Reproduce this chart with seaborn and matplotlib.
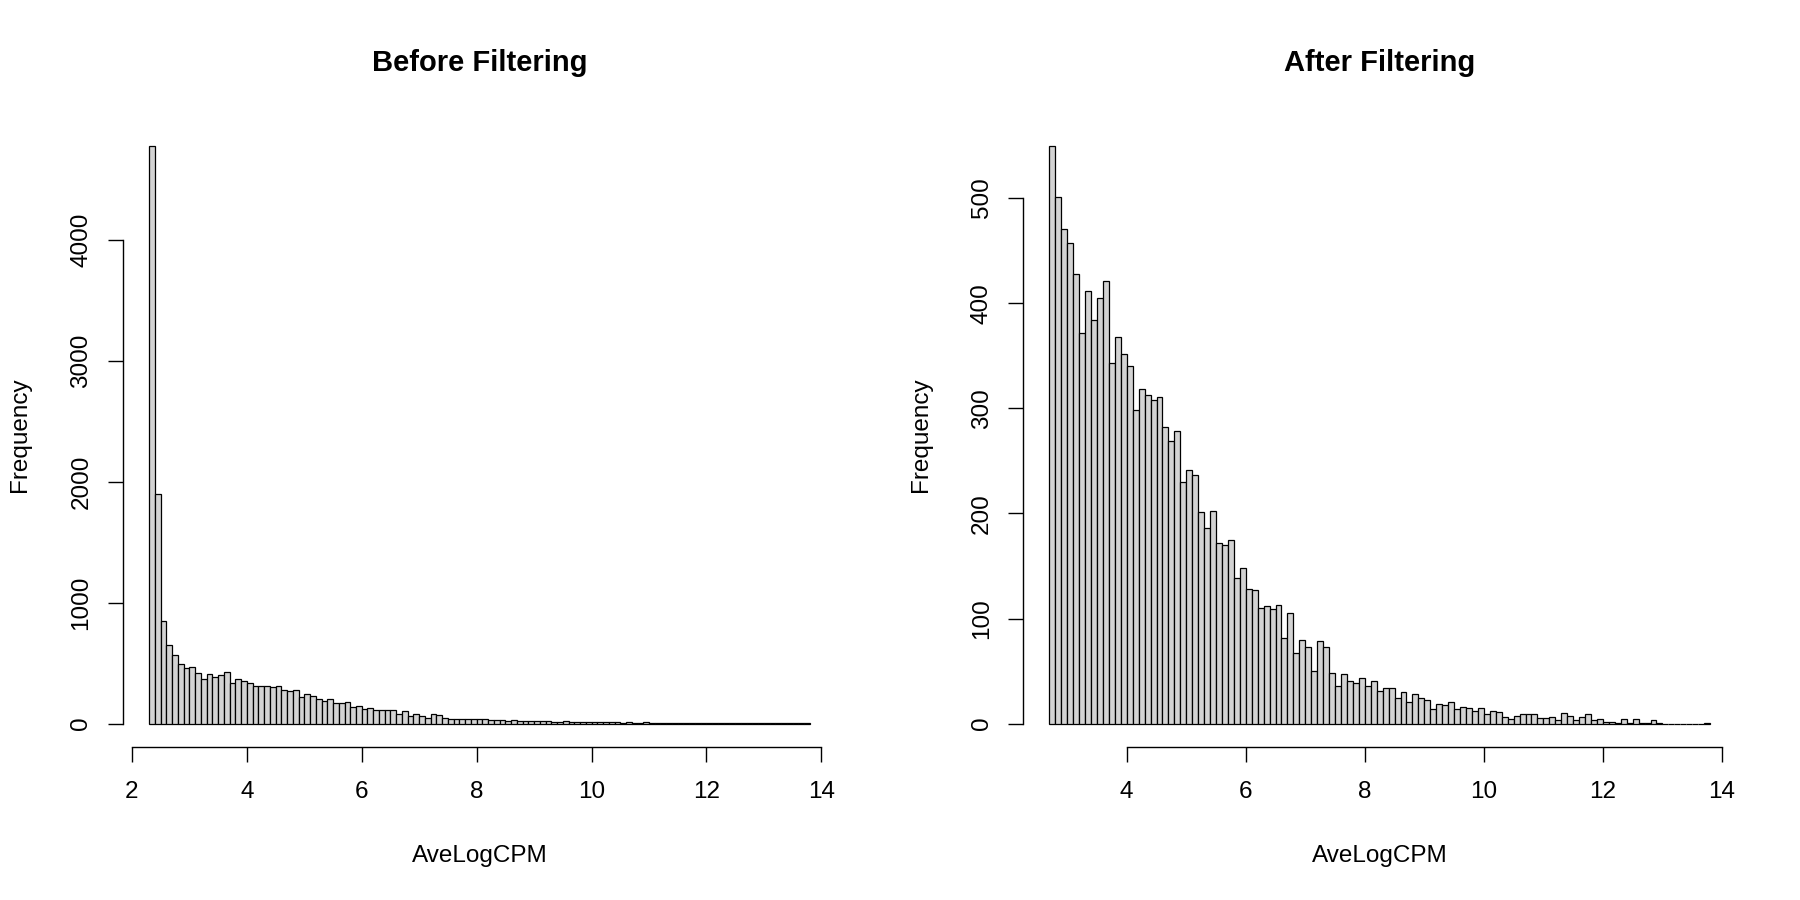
#Recreate the two AveLogCPM histograms (before and after filtering) in an R base graphics look
import matplotlib
matplotlib.use('Agg')
import matplotlib.pyplot as plt
import numpy as np
import pandas as pd
import seaborn as sns

#bin settings (bins are 0.1 wide)
bin_width = 0.1
before_start = 2.3
after_start = 2.7

#counts per bin, from 2.3 up to 13.8
before_counts = [4777, 1899, 847, 652,
                 564, 495, 459, 468, 418, 366, 413, 385, 402, 424,
                 333, 366, 355, 336, 311, 314, 314, 303, 308, 281,
                 272, 275, 220, 248, 231, 201, 184, 204, 168, 171,
                 176, 138, 149, 124, 129, 110, 110, 110, 113, 80,
                 105, 66, 83, 66, 47, 77, 72, 47, 36, 41,
                 39, 36, 41, 36, 41, 30,
                 30, 29, 25, 27, 22, 24, 20, 21, 18, 20,
                 17, 16, 18, 14, 15, 14, 12, 13, 11, 12,
                 10, 11, 9, 10, 8, 9, 10, 7, 8, 7,
                 9, 6, 7, 6, 8, 5, 6, 5, 6, 4,
                 5, 4, 5, 3, 4, 3, 4, 3, 2, 3,
                 2, 2, 3, 2, 2]

#counts per bin after filtering, from 2.7 up to 13.8
after_counts = [550, 501, 471, 457, 428, 372, 412, 384, 405, 421,
                343, 368, 352, 340, 298, 318, 313, 308, 311, 282,
                269, 278, 230, 241, 237,
                201, 186, 202, 172, 170, 175, 139, 148, 128, 127,
                110, 112, 109, 113, 81, 105, 67, 80, 73, 50,
                79, 73, 48, 36, 47, 41, 39, 43, 36, 41,
                31, 34, 34, 24, 30, 21, 28, 24, 22, 14,
                19, 18, 21, 14, 16, 15, 12, 15,
                9, 12, 11, 6, 4, 7, 9, 9, 9, 5,
                5, 6, 3, 10, 7, 3, 6, 9, 3, 4,
                2, 2, 1, 4, 1, 4, 1, 1, 3, 1,
                0, 0, 0, 0, 0, 0, 0, 1]

before_xticks = [2, 4, 6, 8, 10, 12, 14]
after_xticks = [4, 6, 8, 10, 12, 14]
before_yticks = [0, 1000, 2000, 3000, 4000]
after_yticks = [0, 100, 200, 300, 400, 500]

sns.set_style("ticks")
plt.rcParams['font.family'] = ['Liberation Sans', 'DejaVu Sans']
#R draws everything in plain black
for key in ['text.color', 'axes.labelcolor', 'xtick.color', 'ytick.color', 'axes.edgecolor']:
    plt.rcParams[key] = 'black'

fig = plt.figure(figsize=(18, 9), dpi=100)
ax1 = fig.add_axes([0.0682, 0.1703, 0.3964, 0.6937])
ax2 = fig.add_axes([0.5683, 0.1703, 0.3964, 0.6937])


def draw_hist(ax, counts, start, title, xticks, yticks):
    counts = np.array(counts, dtype=float)
    edges = start + bin_width * np.arange(len(counts) + 1)
    #one row per bin, weighted by the bin count
    df = pd.DataFrame({'AveLogCPM': edges[:-1] + bin_width / 2, 'count': counts})
    sns.histplot(data=df, x='AveLogCPM', weights='count', bins=list(edges), ax=ax,
                 color='#D3D3D3', edgecolor='black', linewidth=0.9, alpha=1)
    # R pads the plot region by 4% on each side
    lo, hi = edges[0], edges[-1]
    ax.set_xlim(lo - 0.04 * (hi - lo), hi + 0.04 * (hi - lo))
    ax.set_ylim(-0.04 * counts.max(), 1.04 * counts.max())
    ax.set_xticks(xticks)
    ax.set_yticks(yticks)
    sns.despine(ax=ax)
    ax.spines['bottom'].set_bounds(xticks[0], xticks[-1])
    ax.spines['left'].set_bounds(yticks[0], yticks[-1])
    ax.spines['bottom'].set_linewidth(1.0)
    ax.spines['left'].set_linewidth(1.0)
    ax.tick_params(axis='both', direction='out', length=10.8, width=1.0,
                   labelsize=17.5, color='black', labelcolor='black')
    ax.tick_params(axis='x', pad=14)
    ax.tick_params(axis='y', pad=11)
    for lab in ax.get_yticklabels():
        lab.set_rotation(90)
        lab.set_va('center')
    ax.set_xlabel('AveLogCPM', fontsize=17.5, color='black')
    ax.set_ylabel('Frequency', fontsize=17.5, color='black')
    ax.xaxis.set_label_coords(0.5, -0.158)
    ax.yaxis.set_label_coords(-0.128, 0.5)
    ax.text(0.5, 1.0945, title, transform=ax.transAxes, ha='center',
            va='center', fontsize=21, fontweight='bold', color='black')
    ax.grid(False)


draw_hist(ax1, before_counts, before_start, 'Before Filtering', before_xticks, before_yticks)
draw_hist(ax2, after_counts, after_start, 'After Filtering', after_xticks, after_yticks)

fig.savefig('out.png', dpi=100, facecolor='white')
